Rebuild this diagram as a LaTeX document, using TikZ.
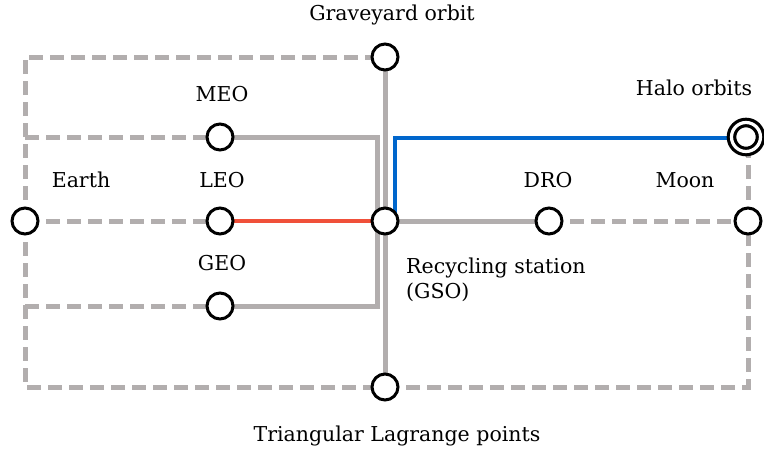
\documentclass[tikz,border=0pt]{standalone}
\usepackage{fontspec}
\setmainfont{DejaVu Serif}
\definecolor{railgray}{RGB}{178,174,174}
\definecolor{railblue}{RGB}{0,102,204}
\definecolor{railred}{RGB}{240,80,58}
\begin{document}
\begin{tikzpicture}[x=1pt,y=-1pt,
  stop/.style={circle,draw=black,line width=3pt,fill=white,minimum size=26pt,inner sep=0pt},
  hub/.style={circle,draw=black,line width=3.2pt,double=white,double distance=3.2pt,fill=white,minimum size=29pt,inner sep=0pt},
  solidrail/.style={draw=railgray,line width=5pt},
  dashrail/.style={draw=railgray,line width=5pt,dash pattern=on 14pt off 7pt},
  label/.style={font=\fontsize{20.5}{25}\selectfont,inner sep=0pt}]
\useasboundingbox (0,0) rectangle (764,456);

% stations
\coordinate (earthc) at (25,221);
\coordinate (leoc) at (220,221);
\coordinate (meoc) at (220,137);
\coordinate (geoc) at (220,306);
\coordinate (gsoc) at (385,221);
\coordinate (gravec) at (385,57);
\coordinate (tric) at (385,387);
\coordinate (droc) at (549,221);
\coordinate (moonc) at (748,221);
\coordinate (haloc) at (746,137);

% junctions on the rails
\coordinate (meojoin) at (25,137);
\coordinate (geojoin) at (25,306);
\coordinate (loopne) at (377,137);
\coordinate (loopse) at (377,306);
\coordinate (bluestart) at (394.5,221);
\coordinate (haloentry) at (746,138);
\coordinate (halobase) at (748,137);

% dashed rails
\draw[dashrail] (earthc) -- (leoc);
\draw[dashrail] (earthc) |- (gravec);
\draw[dashrail] (earthc) |- (tric);
\draw[dashrail] (tric) -| (moonc);
\draw[dashrail] (meojoin) -- (meoc);
\draw[dashrail] (geojoin) -- (geoc);
\draw[dashrail] (droc) -- (moonc);
\draw[dashrail] (moonc) -- (halobase);

% solid rails
\draw[solidrail] (gravec) -- (tric);
\draw[solidrail] (meoc) -- (loopne) -- (loopse) -- (geoc);
\draw[solidrail] (gsoc) -- (droc);
\draw[draw=railred,line width=4pt] (leoc) -- (gsoc);
\draw[draw=railblue,line width=4pt] (bluestart) |- (haloentry);

% station circles
\node[stop] (earth) at (earthc) {};
\node[stop] (leo) at (leoc) {};
\node[stop] (meo) at (meoc) {};
\node[stop] (geo) at (geoc) {};
\node[stop] (gso) at (gsoc) {};
\node[stop] (grave) at (gravec) {};
\node[stop] (tri) at (tric) {};
\node[stop] (dro) at (droc) {};
\node[stop] (moon) at (moonc) {};
\node[hub] (halo) at (haloc) {};

% labels
\node[label] (tgrave) at (392,15) {Graveyard orbit};
\node[label] (tmeo) at (222,94) {MEO};
\node[label] (tearth) at (81,180) {Earth};
\node[label] (tleo) at (222,180) {LEO};
\node[label] (tgeo) at (222,263) {GEO};
\node[label,anchor=west,align=left] (tgso) at (406,280) {Recycling station\\(GSO)};
\node[label] (ttri) at (397,436) {Triangular Lagrange points};
\node[label] (tdro) at (548,180) {DRO};
\node[label] (tmoon) at (685,180) {Moon};
\node[label] (thalo) at (694,88) {Halo orbits};
\end{tikzpicture}
\end{document}
